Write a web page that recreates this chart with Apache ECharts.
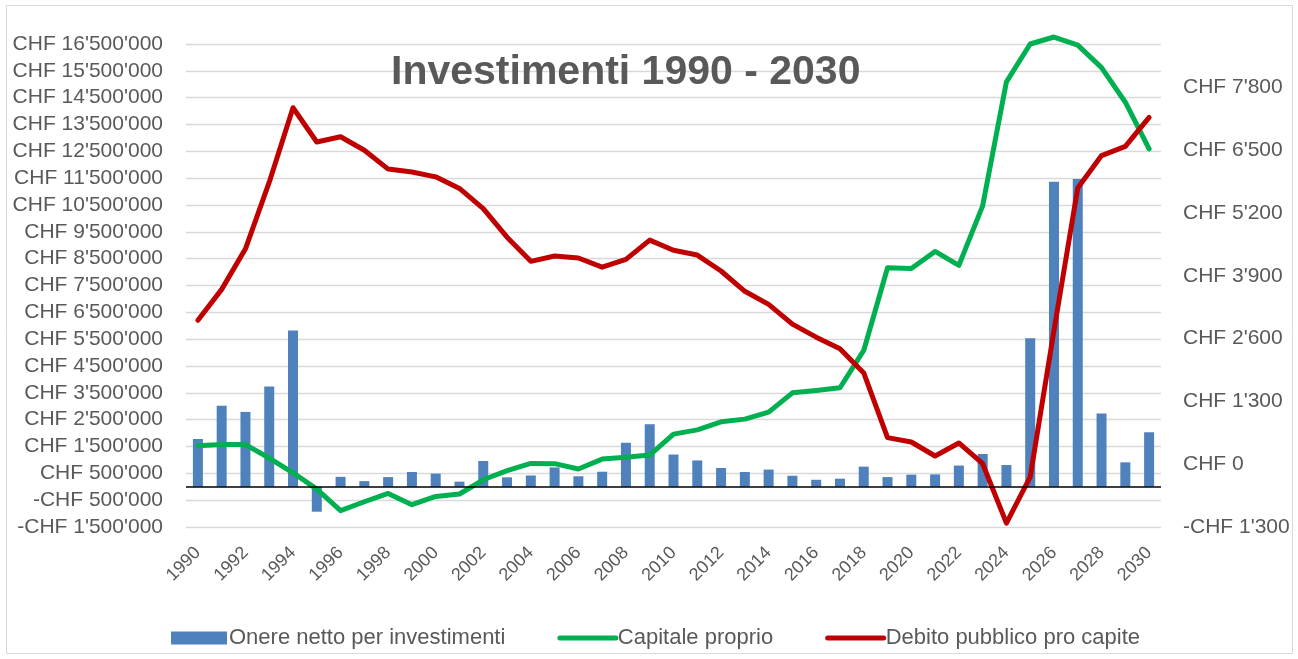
<!DOCTYPE html>
<html>
<head>
<meta charset="utf-8">
<script src="https://cdn.jsdelivr.net/npm/echarts@6/dist/echarts.min.js"></script>
<style>
  html, body { margin: 0; padding: 0; background: #fff; }
  #chart { width: 1298px; height: 659px; }
</style>
</head>
<body>
<div id="chart"></div>
<script>
  const years = [];
  for (let y = 1990; y <= 2030; y++) years.push(String(y));

  // Onere netto per investimenti (CHF)
  const onere = [
    1780000, 3020000, 2790000, 3740000, 5820000, -930000, 370000, 210000, 360000, 550000,
    490000, 190000, 960000, 350000, 420000, 720000, 390000, 560000, 1640000, 2330000,
    1200000, 980000, 700000, 550000, 640000, 410000, 260000, 300000, 750000, 360000,
    450000, 460000, 790000, 1220000, 810000, 5530000, 11370000, 11470000, 2730000, 910000,
    2030000
  ];

  // Capitale proprio (CHF)
  const capitale = [
    1530000, 1570000, 1570000, 1070000, 520000, -90000, -890000, -560000, -250000, -670000,
    -360000, -270000, 260000, 600000, 870000, 860000, 660000, 1030000, 1100000, 1180000,
    1960000, 2120000, 2420000, 2520000, 2780000, 3500000, 3590000, 3690000, 5080000, 8160000,
    8130000, 8770000, 8250000, 10470000, 15090000, 16500000, 16760000, 16460000, 15620000, 14330000,
    12590000
  ];

  // Debito pubblico pro capite (CHF)
  const debito = [
    2980, 3620, 4460, 5840, 7380, 6670, 6780, 6500, 6110, 6050,
    5950, 5710, 5290, 4700, 4200, 4310, 4270, 4080, 4240, 4640,
    4430, 4330, 4000, 3580, 3310, 2900, 2630, 2390, 1890, 550,
    460, 170, 440, 10, -1220, -260, 2770, 5720, 6390, 6580,
    7180
  ];

  const leftTicks = [];
  for (let v = -1500000; v <= 16500000; v += 1000000) leftTicks.push(v);
  const rightTicks = [-1300, 0, 1300, 2600, 3900, 5200, 6500, 7800];

  function chf(v) {
    const s = Math.abs(Math.round(v)).toString().replace(/\B(?=(\d{3})+(?!\d))/g, "'");
    return (v < 0 ? '-CHF ' : 'CHF ') + s;
  }

  const grey = '#595959';
  const font = 'Liberation Sans';
  const chart = echarts.init(document.getElementById('chart'));

  chart.setOption({
    animation: false,
    backgroundColor: '#fff',
    textStyle: { fontFamily: font },
    title: {
      text: 'Investimenti 1990 - 2030',
      left: 386,
      top: 47,
      textStyle: { fontSize: 41, fontWeight: 'bold', color: grey, fontFamily: font }
    },
    graphic: [{
      type: 'rect',
      shape: { x: 6.5, y: 5.5, width: 1286, height: 648 },
      style: { fill: 'none', stroke: '#d9d9d9', lineWidth: 1 },
      silent: true
    }],
    legend: {
      bottom: 5,
      left: 166,
      itemGap: 52,
      itemWidth: 56,
      itemHeight: 13,
      textStyle: { fontSize: 22, color: grey, fontFamily: font, padding: [0, 0, 0, -3] },
      data: [
        { name: 'Onere netto per investimenti', icon: 'rect' },
        {
          name: 'Capitale proprio',
          itemStyle: { opacity: 0 },
          lineStyle: { width: 5, cap: 'round' }
        },
        {
          name: 'Debito pubblico pro capite',
          itemStyle: { opacity: 0 },
          lineStyle: { width: 5, cap: 'round' }
        }
      ]
    },
    grid: { left: 186, right: 137, top: 44, bottom: 132 },
    xAxis: {
      type: 'category',
      data: years,
      boundaryGap: true,
      axisLine: { show: false },
      axisTick: { show: false },
      axisLabel: {
        interval: 1,
        rotate: 45,
        margin: 23,
        fontSize: 18,
        color: grey,
        fontFamily: font
      }
    },
    yAxis: [
      {
        type: 'value',
        min: -1500000,
        max: 16500000,
        axisLine: { show: false },
        axisTick: { show: false, customValues: leftTicks },
        axisLabel: {
          customValues: leftTicks,
          formatter: chf,
          fontSize: 21,
          color: grey,
          margin: 23,
          fontFamily: font
        },
        splitLine: { show: true, lineStyle: { color: '#d9d9d9', width: 1.3 } }
      },
      {
        type: 'value',
        min: -1300,
        max: 8700,
        axisLine: { show: false },
        axisTick: { show: false, customValues: rightTicks },
        axisLabel: {
          customValues: rightTicks,
          formatter: chf,
          fontSize: 21,
          color: grey,
          margin: 22,
          fontFamily: font
        },
        splitLine: { show: false }
      }
    ],
    series: [
      {
        name: 'Onere netto per investimenti',
        type: 'bar',
        yAxisIndex: 0,
        barWidth: 10,
        data: onere,
        itemStyle: { color: '#4f81bd' },
        markLine: {
          silent: true,
          symbol: 'none',
          label: { show: false },
          lineStyle: { color: '#000', type: 'solid', width: 1.5 },
          data: [{ yAxis: 0 }]
        }
      },
      {
        name: 'Capitale proprio',
        type: 'line',
        yAxisIndex: 0,
        data: capitale,
        symbol: 'none',
        clip: false,
        lineStyle: { color: '#00b050', width: 5, cap: 'round', join: 'round' },
        itemStyle: { color: '#00b050' }
      },
      {
        name: 'Debito pubblico pro capite',
        type: 'line',
        yAxisIndex: 1,
        data: debito,
        symbol: 'none',
        clip: false,
        lineStyle: { color: '#c00000', width: 5, cap: 'round', join: 'round' },
        itemStyle: { color: '#c00000' }
      }
    ]
  });
</script>
</body>
</html>
